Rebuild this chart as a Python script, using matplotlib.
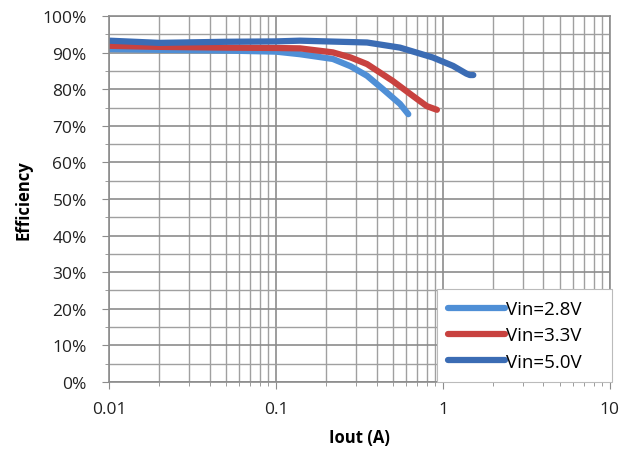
import matplotlib
matplotlib.use("Agg")
import matplotlib.pyplot as plt
from matplotlib.ticker import FuncFormatter, MultipleLocator, LogLocator, NullFormatter

plt.rcParams['font.family'] = ['Open Sans', 'DejaVu Sans']

x_28 = [0.01, 0.02, 0.05, 0.1, 0.139, 0.219, 0.28, 0.351, 0.438, 0.553, 0.62]
y_28 = [91.0, 90.8, 90.6, 90.3, 89.6, 88.3, 86.3, 83.7, 80.0, 76.0, 73.2]

x_33 = [0.01, 0.02, 0.05, 0.1, 0.139, 0.219, 0.28, 0.351, 0.50, 0.66, 0.80, 0.92]
y_33 = [91.9, 91.6, 91.4, 91.3, 91.2, 90.1, 88.7, 86.9, 82.3, 78.2, 75.4, 74.4]

x_50 = [0.01, 0.02, 0.05, 0.1, 0.139, 0.351, 0.553, 0.87, 1.15, 1.38, 1.45, 1.52]
y_50 = [93.3, 92.7, 93.0, 93.1, 93.3, 92.8, 91.4, 88.7, 86.4, 84.3, 83.9, 83.9]

labels = ["Vin=2.8V", "Vin=3.3V", "Vin=5.0V"]
colors = ["#4F8FD6", "#C8423F", "#3B6CB4"]

fig = plt.figure(figsize=(6.34, 4.52), dpi=100)
ax = fig.add_axes([0.172, 0.153, 0.790, 0.809])

for xs, ys, lab, c in zip([x_28, x_33, x_50], [y_28, y_33, y_50], labels, colors):
    ax.plot(xs, ys, color=c, lw=4.5, label=lab, solid_capstyle='round', solid_joinstyle='round')

ax.set_xscale('log')
ax.set_xlim(0.01, 10)
ax.set_ylim(0, 100)
ax.yaxis.set_major_locator(MultipleLocator(10))
ax.yaxis.set_minor_locator(MultipleLocator(5))
ax.yaxis.set_major_formatter(FuncFormatter(lambda v, p: f"{v:.0f}%"))
ax.xaxis.set_major_locator(LogLocator(base=10))
ax.xaxis.set_minor_locator(LogLocator(base=10, subs=range(2, 10)))
ax.xaxis.set_minor_formatter(NullFormatter())
ax.xaxis.set_major_formatter(FuncFormatter(lambda v, p: f"{v:g}"))

ax.grid(True, which='major', color='#8C8C8C', lw=1.2)
ax.grid(True, which='minor', color='#A0A0A0', lw=1.0)
ax.set_axisbelow(True)
for s in ax.spines.values():
    s.set_color('#8C8C8C')
    s.set_linewidth(1.2)
ax.tick_params(which='both', direction='out', color='#8C8C8C', labelsize=12.5, labelcolor='#222222')
ax.tick_params(axis='y', which='major', length=5, pad=11)
ax.tick_params(axis='y', which='minor', length=3)
ax.tick_params(axis='x', which='major', length=5, pad=9)
ax.tick_params(axis='x', which='minor', length=3)

ax.set_xlabel("Iout (A)", fontsize=12, fontweight='bold', labelpad=8)
ax.set_ylabel("Efficiency", fontsize=12, fontweight='bold', labelpad=7)

leg = ax.legend(loc='lower left', fontsize=13.5, handlelength=3.0, frameon=True, fancybox=False,
                edgecolor='#BBBBBB', framealpha=1, borderpad=0.6, labelspacing=0.44,
                handletextpad=0.1, bbox_to_anchor=(0.655, 0.0, 0.349, 0.247),
                mode='expand', borderaxespad=0.0)
leg.get_frame().set_linewidth(0.8)

fig.savefig("out.png", dpi=100, facecolor='white')
